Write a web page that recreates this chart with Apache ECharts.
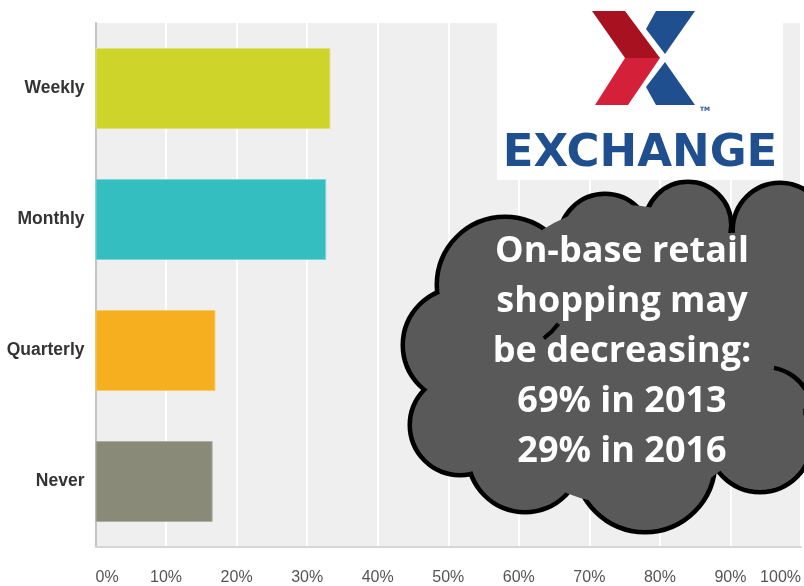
<!DOCTYPE html>
<html>
<head>
<meta charset="utf-8">
<script src="https://cdn.jsdelivr.net/npm/echarts@6/dist/echarts.min.js"></script>
<style>
html,body{margin:0;padding:0;background:#fff;}
#main{width:804px;height:586px;}
</style>
</head>
<body>
<div id="main"></div>
<script>
// ---- data ----
var categories = ['Weekly', 'Monthly', 'Quarterly', 'Never'];
var values = [33.3, 32.7, 17.0, 16.6];
var barColors = ['#cfd42a', '#34bec0', '#f5af1f', '#898a78'];
var barBorders = ['#dfe27a', '#7fd5d6', '#f8c96a', '#aeaea2'];
var tickLabels = ['0%', '10%', '20%', '30%', '40%', '50%', '60%', '70%', '80%', '90%', '100%'];
var calloutLines = ['On-base retail', 'shopping may', 'be decreasing:', '69% in 2013', '29% in 2016'];
var logoWord = 'EXCHANGE';

// ---- decoration helpers ----
var cloudCircles = [
  [505, 285, 66], [605, 240, 44], [688, 225, 41], [780, 230, 45],
  [850, 320, 100], [760, 440, 50], [645, 462, 68], [525, 455, 55],
  [460, 425, 48], [460, 345, 55]
];
var cloudFill = '#595959';
var graphics = [];
// logo box
graphics.push({type: 'rect', shape: {x: 497, y: 0, width: 286, height: 180}, style: {fill: '#ffffff'}, z: 100});
graphics.push({type: 'polygon', shape: {points: [[592,11],[625,11],[660,58],[625,58]]}, style: {fill: '#a8111f'}, z: 101});
graphics.push({type: 'polygon', shape: {points: [[625,58],[660,58],[628,105],[595,105]]}, style: {fill: '#d5203a'}, z: 101});
graphics.push({type: 'polygon', shape: {points: [[656,11],[695,11],[665,54],[646,29]]}, style: {fill: '#1f4f8e'}, z: 101});
graphics.push({type: 'polygon', shape: {points: [[665,62],[695,105],[656,105],[646,87]]}, style: {fill: '#1f4f8e'}, z: 101});
graphics.push({type: 'text', x: 700, y: 109, style: {text: 'TM', fill: '#1f4f8e', font: 'bold 6px "DejaVu Sans"', textVerticalAlign: 'middle'}, z: 101});
graphics.push({type: 'text', x: 640, y: 154, style: {text: logoWord, fill: '#1f4f8e', font: 'bold 45px "DejaVu Sans"', textAlign: 'center', textVerticalAlign: 'middle'}, z: 101});
// cloud: stroked circles, then fill-only circles on top
cloudCircles.forEach(function (c) {
  graphics.push({type: 'circle', shape: {cx: c[0], cy: c[1], r: c[2]}, style: {fill: cloudFill, stroke: '#000', lineWidth: 9}, z: 110});
});
cloudCircles.forEach(function (c) {
  graphics.push({type: 'circle', shape: {cx: c[0], cy: c[1], r: c[2]}, style: {fill: cloudFill}, z: 111});
});
graphics.push({type: 'circle', shape: {cx: 625, cy: 355, r: 150}, style: {fill: cloudFill}, z: 111});
graphics.push({type: 'polygon', shape: {points: [[470,290],[560,240],[800,230],[804,450],[720,470],[520,470],[460,420]]}, style: {fill: cloudFill}, z: 111});
// inner arcs of the cloud
graphics.push({type: 'arc', shape: {cx: 765, cy: 415, r: 48, startAngle: -Math.PI * 0.44, endAngle: -Math.PI * 0.15}, style: {stroke: '#000', lineWidth: 4.5, fill: null}, z: 112});
graphics.push({type: 'arc', shape: {cx: 505, cy: 285, r: 66, startAngle: Math.PI * 0.2, endAngle: Math.PI * 0.3}, style: {stroke: '#000', lineWidth: 4, fill: null}, z: 112});
graphics.push({type: 'text', x: 622, y: 352, style: {text: calloutLines.join('\n'), fill: '#ffffff', font: 'bold 36px "Open Sans"', lineHeight: 50, textAlign: 'center', textVerticalAlign: 'middle'}, z: 113});

var chart = echarts.init(document.getElementById('main'), null, {renderer: 'canvas'});
chart.setOption({
  animation: false,
  backgroundColor: '#ffffff',
  grid: {left: 95.5, right: 1, top: 23, bottom: 38, show: true, backgroundColor: '#efefef', borderWidth: 0},
  xAxis: {
    type: 'value', min: 0, max: 100, interval: 10,
    axisLine: {show: true, lineStyle: {color: '#d6d6d6', width: 2}},
    axisTick: {show: false},
    splitLine: {show: true, lineStyle: {color: '#ffffff', width: 2}},
    axisLabel: {
      formatter: function (v) { return tickLabels[Math.round(v / 10)]; },
      color: '#555', fontSize: 16, fontFamily: '"Liberation Sans", Arial', margin: 23,
      alignMinLabel: 'left', alignMaxLabel: 'right'
    }
  },
  yAxis: {
    type: 'category', data: categories, inverse: true,
    axisLine: {show: true, lineStyle: {color: '#c4c4c4', width: 2}},
    axisTick: {show: false},
    axisLabel: {color: '#333', fontSize: 17.5, fontWeight: 'bold', fontFamily: '"Liberation Sans", Arial', margin: 11}
  },
  series: [{
    type: 'bar', barWidth: 81,
    data: values.map(function (v, i) {
      return {value: v, itemStyle: {color: barColors[i], borderColor: barBorders[i], borderWidth: 1}};
    })
  }],
  graphic: {elements: graphics}
});
</script>
</body>
</html>
